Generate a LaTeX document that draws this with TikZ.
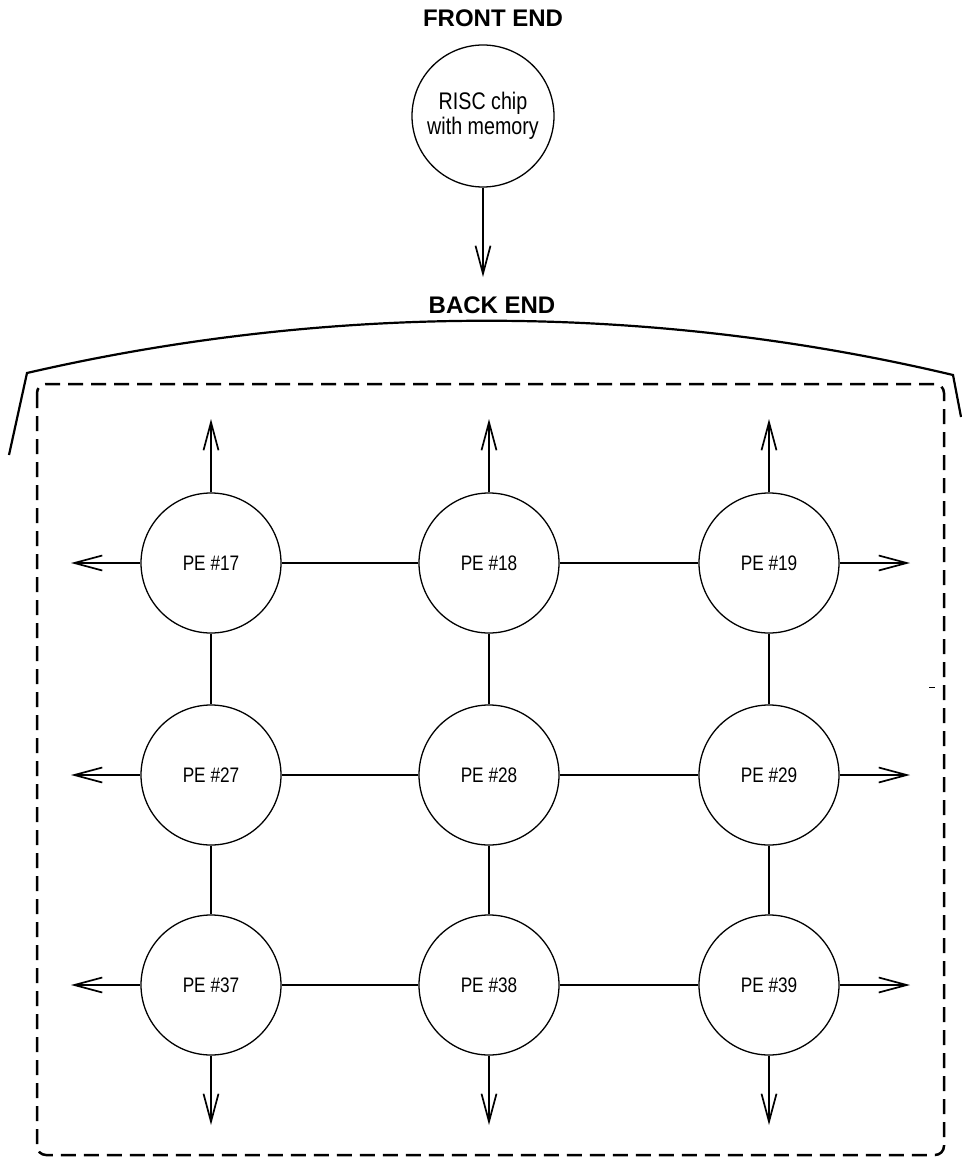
\documentclass[tikz,border=0pt]{standalone}
\usepackage{fontspec}
\setmainfont{Liberation Sans}[FakeStretch=0.82]
\newfontfamily\titlefont{Liberation Sans}
\usetikzlibrary{arrows.meta}
\begin{document}
\begin{tikzpicture}[x=1pt,y=-1pt,
  pe/.style={circle,draw,line width=1.3pt,minimum size=140pt,inner sep=0pt,font=\fontsize{21}{25}\selectfont},
  risc/.style={circle,draw,line width=1.3pt,minimum size=142pt,inner sep=0pt,align=center,font=\fontsize{24}{25.5}\selectfont},
  title/.style={font=\titlefont\bfseries\fontsize{24}{28}\selectfont,inner sep=0pt},
  link/.style={line width=1.5pt},
  outarrow/.style={line width=1.5pt,-{Straight Barb[length=28pt,width=15pt,line width=1.7pt]}},
  shell/.style={line width=2.2pt,line join=miter},
  dashbox/.style={line width=2.5pt,dash pattern=on 15pt off 8pt,rounded corners=9pt}]
\useasboundingbox (0,0) rectangle (961,1161);
\node[title] (fe) at (493,18.5) {FRONT END};
\node[risc] (cpu) at (483,116) {\raisebox{2pt}{RISC chip}\\\raisebox{2pt}{with memory}};
\coordinate (cpuend) at (483,277);
\draw[outarrow] (cpu.south) -- (cpuend);
\node[title] (be) at (492,305) {BACK END};
\draw[shell] (9,455) -- (27,373) .. controls (330,303) and (650,303) .. (953,375) -- (961,417);
\draw[dashbox] (37,384) rectangle (944,1155);
\draw[line width=1pt] (929,687) -- (935,687);
% PE grid
\foreach \c/\x in {1/211,2/489,3/769}{
  \foreach \r/\y in {1/563,2/775,3/985}{
    \node[pe] (pe\r\c) at (\x,\y) {PE \#\r\ifcase\c\or7\or8\or9\fi};
  }
}
% horizontal links
\foreach \r in {1,2,3}{
  \draw[link] (pe\r1.east) -- (pe\r2.west);
  \draw[link] (pe\r2.east) -- (pe\r3.west);
}
% vertical links
\foreach \c in {1,2,3}{
  \draw[link] (pe1\c.south) -- (pe2\c.north);
  \draw[link] (pe2\c.south) -- (pe3\c.north);
}
% outward arrows
\foreach \c/\x in {1/211,2/489,3/769}{
  \coordinate (up\c) at (\x,419);
  \coordinate (dn\c) at (\x,1125);
  \draw[outarrow] (pe1\c.north) -- (up\c);
  \draw[outarrow] (pe3\c.south) -- (dn\c);
}
\foreach \r/\y in {1/563,2/775,3/985}{
  \coordinate (lf\r) at (71,\y);
  \coordinate (rt\r) at (910,\y);
  \draw[outarrow] (pe\r1.west) -- (lf\r);
  \draw[outarrow] (pe\r3.east) -- (rt\r);
}
\end{tikzpicture}
\end{document}
